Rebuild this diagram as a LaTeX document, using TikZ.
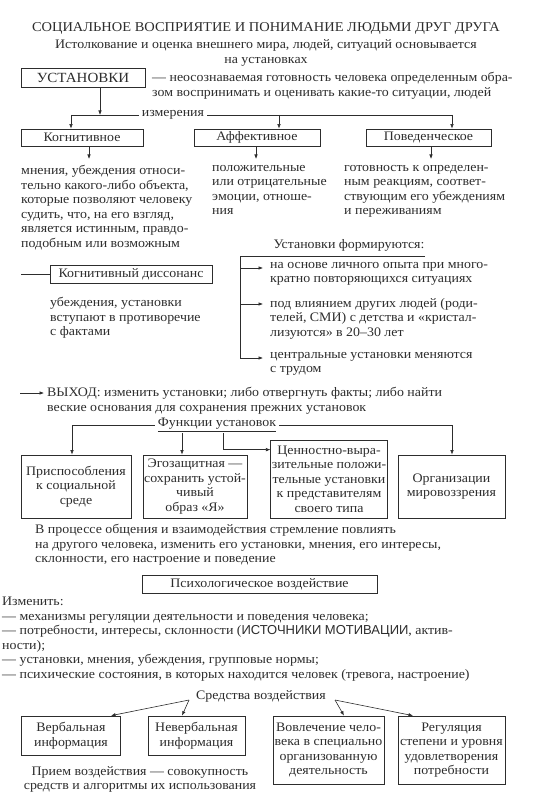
\documentclass[tikz,border=0pt]{standalone}
\usepackage{fontspec}
\setmainfont[FakeStretch=1.07]{Liberation Serif}
\setsansfont{Liberation Sans}
\usepackage{tikz}
\usetikzlibrary{arrows.meta, positioning}
\definecolor{ink}{RGB}{45, 45, 45}
\definecolor{paper}{RGB}{255, 255, 255}
\tikzset{
  every node/.style={text=ink, font=\fontsize{13}{14.5}\selectfont},
  box/.style={draw=ink, line width=0.7pt, align=center, inner sep=1pt},
  txt/.style={align=left, anchor=north west, inner sep=0pt},
  lbl/.style={fill=paper, inner sep=3pt},
  ln/.style={draw=ink, line width=0.6pt},
  arr/.style={draw=ink, line width=0.6pt, -{Latex[length=4.5pt,width=3.5pt]}}
}

\begin{document}
\begin{tikzpicture}[x=1pt, y=-1pt]
  \useasboundingbox[fill=paper] (0,0) rectangle (544,802);

  % heading
  \node[font=\fontsize{13.5}{15}\selectfont] (title) at (266,28)
    {СОЦИАЛЬНОЕ ВОСПРИЯТИЕ И ПОНИМАНИЕ ЛЮДЬМИ ДРУГ ДРУГА};
  \node[align=center] (sub) at (266,53)
    {Истолкование и оценка внешнего мира, людей, ситуаций основывается\\
     на установках};

  % attitudes
  \node[box, minimum width=124, minimum height=19,
        font=\fontsize{14}{16}\selectfont] (ust) at (83,78) {УСТАНОВКИ};
  \node[txt] (def) at (152,72)
    {— неосознаваемая готовность человека определенным обра-\\
     зом воспринимать и оценивать какие-то ситуации, людей};

  % dimensions
  \coordinate (dimL) at (71,115);
  \coordinate (dimJ) at (100,115);
  \coordinate (dimA) at (279,115);
  \coordinate (dimR) at (452,115);
  \node[lbl] (dim) at (173,115) {измерения};
  \draw[arr] (ust.south -| dimJ) -- (dimJ);
  \draw[ln] (dimL) -- (dim.west);
  \draw[ln] (dim.east) -- (dimR);

  \node[box, minimum width=122, minimum height=17] (kog) at (82,137.5) {Когнитивное};
  \node[box, minimum width=126, minimum height=17] (aff) at (257,137.5) {Аффективное};
  \node[box, minimum width=125, minimum height=17] (pov) at (428.5,137.5) {Поведенческое};
  \draw[arr] (dimL) -- (kog.north -| dimL);
  \draw[arr] (dimA) -- (aff.north -| dimA);
  \draw[arr] (dimR) -- (pov.north -| dimR);

  \coordinate (kogD) at (89,159);
  \coordinate (affD) at (256,159);
  \coordinate (povD) at (431,159);
  \draw[arr] (kog.south -| kogD) -- (kogD);
  \draw[arr] (aff.south -| affD) -- (affD);
  \draw[arr] (pov.south -| povD) -- (povD);

  \node[txt] (kogtxt) at (21,165)
    {мнения, убеждения относи-\\тельно какого-либо объекта,\\
     которые позволяют человеку\\судить, что, на его взгляд,\\
     является истинным, правдо-\\подобным или возможным};
  \node[txt] (afftxt) at (212,165)
    {положительные\\или отрицательные\\эмоции, отноше-\\ния};
  \node[txt] (povtxt) at (344,165)
    {готовность к определен-\\ным реакциям, соответ-\\
     ствующим его убеждениям\\и переживаниям};

  % cognitive dissonance
  \coordinate (disL) at (21,274);
  \node[box, minimum width=162, minimum height=18] (dis) at (131,274)
    {Когнитивный диссонанс};
  \draw[ln] (disL) -- (dis.west);
  \node[txt] (distxt) at (50,297)
    {убеждения, установки\\вступают в противоречие\\с фактами};

  % formation
  \node (form) at (349,245) {Установки формируются:};
  \coordinate (brT) at (240,256);
  \coordinate (brR) at (425,256);
  \coordinate (brB) at (240,358);
  \draw[ln] (brR) -- (brT) -- (brB);
  \node[txt] (f1) at (270,262)
    {на основе личного опыта при много-\\кратно повторяющихся ситуациях};
  \node[txt] (f2) at (270,298)
    {под влиянием других людей (роди-\\телей, СМИ) с детства и «кристал-\\лизуются» в 20–30 лет};
  \node[txt] (f3) at (270,352)
    {центральные установки меняются\\с трудом};
  \coordinate (f1a) at (263,268);
  \coordinate (f2a) at (263,304);
  \coordinate (f3a) at (263,358);
  \draw[arr] (brT |- f1a) -- (f1a);
  \draw[arr] (brT |- f2a) -- (f2a);
  \draw[arr] (brB) -- (f3a);

  % way out
  \coordinate (exL) at (20,393);
  \coordinate (exR) at (44,393);
  \node[txt] (exit) at (47,387)
    {ВЫХОД: изменить установки; либо отвергнуть факты; либо найти\\
     веские основания для сохранения прежних установок};
  \draw[arr] (exL) -- (exR);

  % functions
  \node[lbl] (fun) at (217,425) {\underline{Функции установок}};
  \coordinate (fnL) at (72,425);
  \coordinate (fnR) at (452,425);
  \coordinate (fnB) at (182,433);
  \coordinate (fnC) at (223,433);
  \draw[ln] (fnL) -- (fun.west);
  \draw[ln] (fun.east) -- (fnR);

  \node[box, minimum width=110, minimum height=63] (b1) at (76,486.5)
    {Приспособления\\к социальной\\среде};
  \node[box, minimum width=102, minimum height=63] (b2) at (195,486.5)
    {Эгозащитная —\\сохранить устой-\\чивый\\образ «Я»};
  \node[box, minimum width=116, minimum height=78] (b3) at (329,479)
    {Ценностно-выра-\\зительные положи-\\тельные установки\\к представителям\\своего типа};
  \node[box, minimum width=107, minimum height=63] (b4) at (451.5,486.5)
    {Организации\\мировоззрения};
  \draw[arr] (fnL) -- (b1.north -| fnL);
  \draw[arr] (fnB) -- (b2.north -| fnB);
  \draw[arr] (fnC) |- ([yshift=-10pt]b3.north west);
  \draw[arr] (fnR) -- (b4.north -| fnR);

  % influence
  \node[txt] (proc) at (35,524)
    {В процессе общения и взаимодействия стремление повлиять\\
     на другого человека, изменить его установки, мнения, его интересы,\\
     склонности, его настроение и поведение};
  \node[box, minimum width=235, minimum height=18] (psy) at (259.5,584)
    {Психологическое воздействие};
  \node[txt] (chg) at (2,597)
    {Изменить:\\
     — механизмы регуляции деятельности и поведения человека;\\
     — потребности, интересы, склонности ({\sffamily ИСТОЧНИКИ МОТИВАЦИИ}, актив-\\
     ности);\\
     — установки, мнения, убеждения, групповые нормы;\\
     — психические состояния, в которых находится человек (тревога, настроение)};

  % means
  \node (sred) at (261,696) {Средства воздействия};
  \coordinate (sredL) at (189,700);
  \coordinate (sredR) at (335,700);
  \node[box, minimum width=99, minimum height=39] (verb) at (71,735.5)
    {Вербальная\\информация};
  \node[box, minimum width=97, minimum height=39] (nverb) at (196.5,735.5)
    {Невербальная\\информация};
  \node[box, minimum width=111, minimum height=68] (vovl) at (328.5,750)
    {Вовлечение чело-\\века в специально\\организованную\\деятельность};
  \node[box, minimum width=107, minimum height=68] (reg) at (451.5,750)
    {Регуляция\\степени и уровня\\удовлетворения\\потребности};
  \draw[arr] (sredL) -- ([xshift=40pt]verb.north);
  \draw[arr] (sredL) -- ([xshift=-14.5pt]nverb.north);
  \draw[arr] (sredR) -- ([xshift=15.5pt]vovl.north);
  \draw[arr] (sredR) -- ([xshift=-38.5pt]reg.north);
  \node[align=center] (priem) at (140,779.5)
    {Прием воздействия — совокупность\\средств и алгоритмы их использования};
\end{tikzpicture}
\end{document}
